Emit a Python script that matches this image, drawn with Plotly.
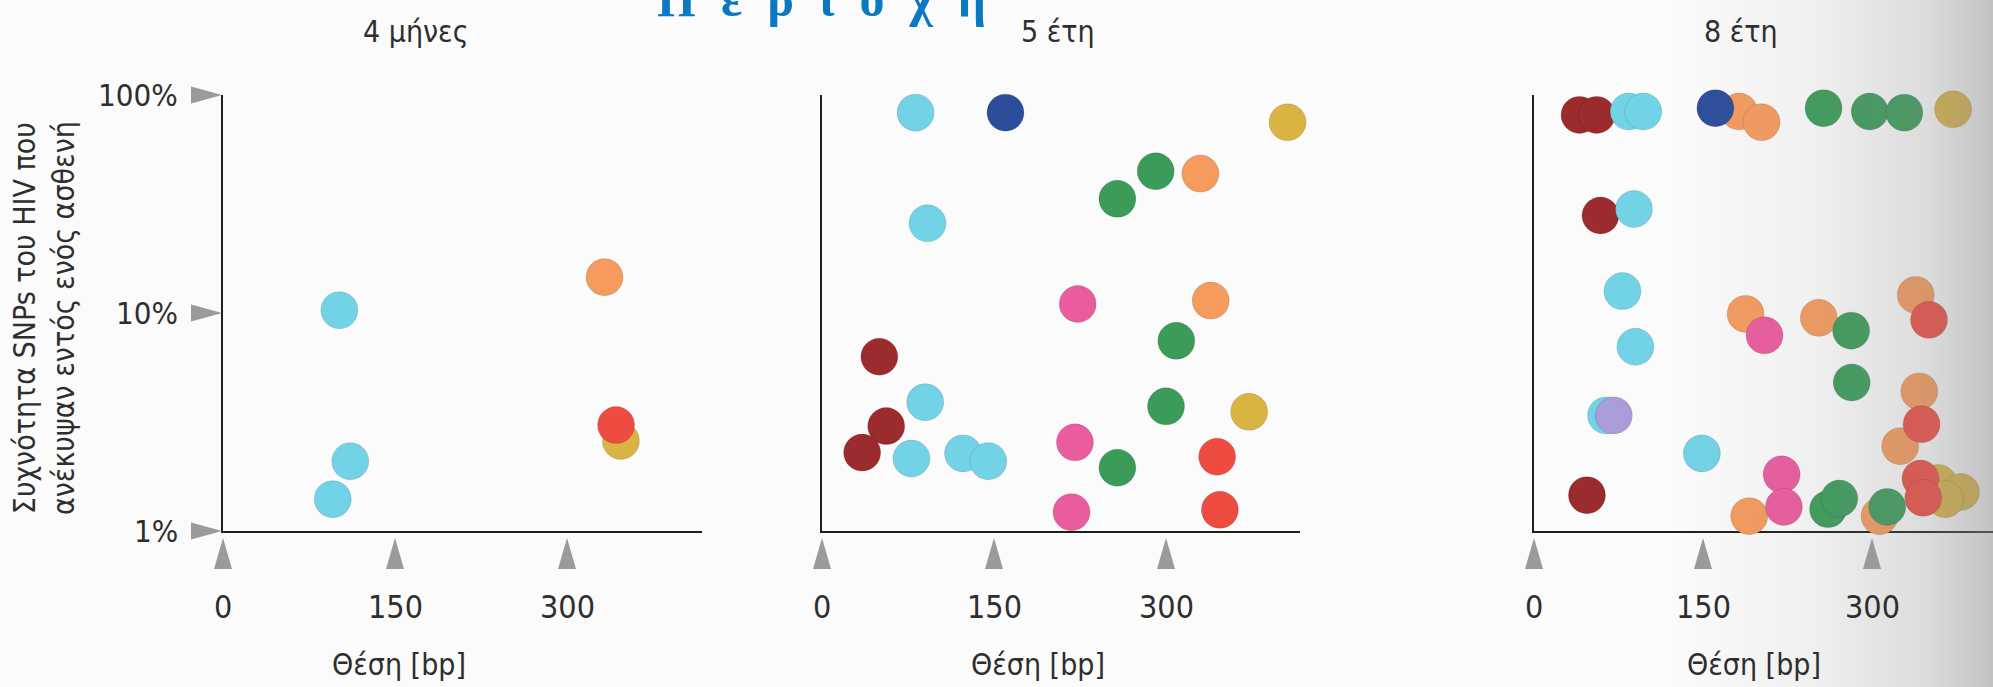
import base64
import math
import plotly.graph_objects as go

# ---------------- data ----------------
panel_titles = ["4 μήνες", "5 έτη", "8 έτη"]

m4_pos = [101.5, 111, 95.7, 332.7, 347, 342.8]
m4_freq = [10.3, 2.09, 1.40, 14.6, 2.59, 3.06]
m4_grp = ["cyan", "cyan", "cyan", "orange", "yellow", "red"]

y5_pos = [81.6, 160, 406, 291, 330, 257.6, 92, 223, 339, 309, 50, 90, 300, 372.5,
          56, 35, 78, 123, 145, 220.6, 257.6, 344.6, 347, 217.6]
y5_freq = [83, 83, 75, 44.7, 43.6, 33.4, 25.8, 11.0, 11.4, 7.45, 6.3, 3.9, 3.73, 3.52,
           3.03, 2.29, 2.15, 2.27, 2.09, 2.55, 1.95, 2.19, 1.25, 1.22]
y5_grp = ["cyan", "navy", "yellow", "green", "orange", "green", "cyan", "pink", "orange",
          "green", "brown", "cyan", "green", "yellow", "brown", "brown", "cyan", "cyan",
          "cyan", "pink", "green", "red", "red", "pink"]

y8_pos = [40.4, 55.6, 84, 97, 161, 182, 202, 257, 298, 328.7, 372,
          59, 88.7, 78.5, 90, 187.8, 204.6, 252.8, 281.5, 338.8, 350.6,
          282, 342, 344, 325, 64, 70.8, 149, 47, 219.8, 221.8, 191, 261, 271,
          306.7, 313.5, 343, 345.5, 359, 379, 365]
y8_freq = [81, 81, 84, 84, 87, 84, 75, 87, 84, 83, 86,
           28, 30, 12.6, 7.0, 9.9, 7.9, 9.5, 8.3, 12.1, 9.3,
           4.8, 4.37, 3.09, 2.45, 3.39, 3.39, 2.27, 1.46, 1.82, 1.29, 1.17, 1.26, 1.41,
           1.17, 1.29, 1.74, 1.42, 1.66, 1.51, 1.40]
y8_grp = ["brown", "brown", "cyan", "cyan", "navy", "orange", "orange", "green", "green", "green", "yellow",
          "brown", "cyan", "cyan", "cyan", "orange", "pink", "orange", "green", "orange", "red",
          "green", "orange", "red", "orange", "cyan", "lavender", "cyan", "brown", "pink", "pink",
          "orange", "green", "green", "orange", "green", "red", "red", "yellow", "yellow", "yellow"]

x_tick_vals = [0, 150, 300]
x_tick_text = ["0", "150", "300"]
y_tick_vals = [1, 10, 100]
y_tick_text = ["1%", "10%", "100%"]
x_title = "Θέση [bp]"
y_title = "Συχνότητα SNPs του HIV που<br>ανέκυψαν εντός ενός ασθενή"
top_title = "Π  ε  ρ  ι  ο  χ  ή"

# ---------------- styling ----------------
W, H = 1993, 687
group_order = ["brown", "cyan", "lavender", "orange", "navy", "pink", "green", "yellow", "red"]
colors = {
    "brown": "#9b2b2d", "cyan": "#72d3e6", "lavender": "#a99cd9", "orange": "#f59b5e",
    "navy": "#2c4d9a", "pink": "#eb5c9f", "green": "#3b9c5a", "yellow": "#d9b443",
    "red": "#ee4c41",
}
COND = "Liberation Sans Narrow, DejaVu Sans Condensed, Roboto Condensed, Arial Narrow, Liberation Sans, sans-serif"
TXT = "#2e2e2e"
TRI = "#9a9a9a"
panel_px = [(223, 702), (822, 1300), (1534, 1993)]
panel_px_per_bp = [172 / 150.0, 172 / 150.0, 169 / 150.0]
y_bot_px, y_top_px = 531, 95
y_range = [0, 2]
ydom = [(H - y_bot_px) / H, (H - y_top_px) / H]

panels = [(m4_pos, m4_freq, m4_grp), (y5_pos, y5_freq, y5_grp), (y8_pos, y8_freq, y8_grp)]
title_cx = [416, 1058, 1741]
xtitle_cx = [399, 1038, 1754]

fig = go.Figure()
shapes, annotations = [], []

for i, (pos, freq, grp) in enumerate(panels):
    sfx = "" if i == 0 else str(i + 1)
    xa, ya = "x" + sfx, "y" + sfx
    x0p, x1p = panel_px[i]
    xmax = (x1p - x0p) / panel_px_per_bp[i]
    fig.update_layout(**{
        "xaxis" + sfx: dict(domain=[x0p / W, x1p / W], range=[0, xmax], anchor=ya,
                            showline=True, linecolor="#1e1e1e", linewidth=2, showgrid=False,
                            zeroline=False, showticklabels=False, ticks="", layer="below traces",
                            fixedrange=True),
        "yaxis" + sfx: dict(domain=ydom, type="log", range=y_range, anchor=xa,
                            showline=True, linecolor="#1e1e1e", linewidth=2, showgrid=False,
                            zeroline=False, showticklabels=False, ticks="", layer="below traces",
                            fixedrange=True),
    })
    for g in group_order:
        xs = [p for p, gg in zip(pos, grp) if gg == g]
        ys = [f for f, gg in zip(freq, grp) if gg == g]
        if not xs:
            continue
        fig.add_trace(go.Scatter(
            x=xs, y=ys, mode="markers", xaxis=xa, yaxis=ya, cliponaxis=False,
            marker=dict(size=37, color=colors[g], opacity=1,
                        line=dict(width=1, color="rgba(0,0,0,0.12)")),
            showlegend=False, hoverinfo="skip"))

    # x ticks (triangles + labels)
    for tv, tt in zip(x_tick_vals, x_tick_text):
        fx = tv / xmax
        shapes.append(dict(type="path", xref=xa + " domain", yref=ya + " domain",
                           xsizemode="pixel", ysizemode="pixel", xanchor=fx, yanchor=0,
                           path="M-9,-38 L9,-38 L0,-7 Z", fillcolor=TRI, line=dict(width=0)))
        annotations.append(dict(text=tt, xref=xa, yref=ya + " domain", x=tv, y=0,
                                xanchor="center", yanchor="middle", yshift=-76, showarrow=False,
                                font=dict(family=COND, size=32, color=TXT)))
    # y ticks only on the first panel
    if i == 0:
        for tv, tt in zip(y_tick_vals, y_tick_text):
            frac = (math.log10(tv) - y_range[0]) / (y_range[1] - y_range[0])
            shapes.append(dict(type="path", xref=xa + " domain", yref=ya + " domain",
                               xsizemode="pixel", ysizemode="pixel", xanchor=0, yanchor=frac,
                               path="M-32,-8.5 L-32,8.5 L-1,0 Z", fillcolor=TRI,
                               line=dict(width=0)))
            annotations.append(dict(text=tt, xref=xa + " domain", yref=ya + " domain", x=0,
                                    y=frac, xanchor="right", yanchor="middle", xshift=-43,
                                    showarrow=False, font=dict(family=COND, size=31, color=TXT)))
    annotations.append(dict(text=panel_titles[i], xref="paper", yref="paper",
                            x=title_cx[i] / W, y=(H - 31) / H, xanchor="center",
                            yanchor="middle", showarrow=False,
                            font=dict(family=COND, size=30, color=TXT)))
    annotations.append(dict(text=x_title, xref="paper", yref="paper",
                            x=xtitle_cx[i] / W, y=(H - 664) / H, xanchor="center",
                            yanchor="middle", showarrow=False,
                            font=dict(family=COND, size=30, color=TXT)))

annotations.append(dict(text=y_title, xref="paper", yref="paper", x=44 / W, y=(H - 318) / H,
                        xanchor="center", yanchor="middle", textangle=-90, showarrow=False,
                        font=dict(family=COND, size=30, color=TXT)))
annotations.append(dict(text=top_title.replace(" ", "\u00a0"), xref="paper", yref="paper",
                        x=655 / W, y=(H - 29) / H, xanchor="left", yanchor="bottom",
                        showarrow=False,
                        font=dict(family="Liberation Serif, DejaVu Serif, serif", size=50,
                                  color="#0b78c1", weight="bold")))

# page fade on the right edge
svg = ("<svg xmlns='http://www.w3.org/2000/svg' width='100' height='100' preserveAspectRatio='none'>"
       "<defs><linearGradient id='g' x1='0' x2='1' y1='0' y2='0'>"
       "<stop offset='0' stop-color='#8a8a8a' stop-opacity='0'/>"
       "<stop offset='0.45' stop-color='#8a8a8a' stop-opacity='0.10'/>"
       "<stop offset='0.8' stop-color='#8a8a8a' stop-opacity='0.28'/>"
       "<stop offset='1' stop-color='#8a8a8a' stop-opacity='0.5'/>"
       "</linearGradient></defs><rect width='100' height='100' fill='url(#g)'/></svg>")
src = "data:image/svg+xml;base64," + base64.b64encode(svg.encode()).decode()
fade_x0 = 1670
fig.add_layout_image(dict(source=src, xref="paper", yref="paper", x=fade_x0 / W, y=1,
                          sizex=(W - fade_x0) / W, sizey=1, sizing="stretch", layer="above",
                          xanchor="left", yanchor="top"))

fig.update_layout(width=W, height=H, margin=dict(l=0, r=0, t=0, b=0),
                  paper_bgcolor="#fbfbfb", plot_bgcolor="rgba(0,0,0,0)",
                  shapes=shapes, annotations=annotations, showlegend=False)
fig.write_html("out.html", config={"displayModeBar": False},
               post_script="document.body.style.margin='0';document.body.style.overflow='hidden';")
